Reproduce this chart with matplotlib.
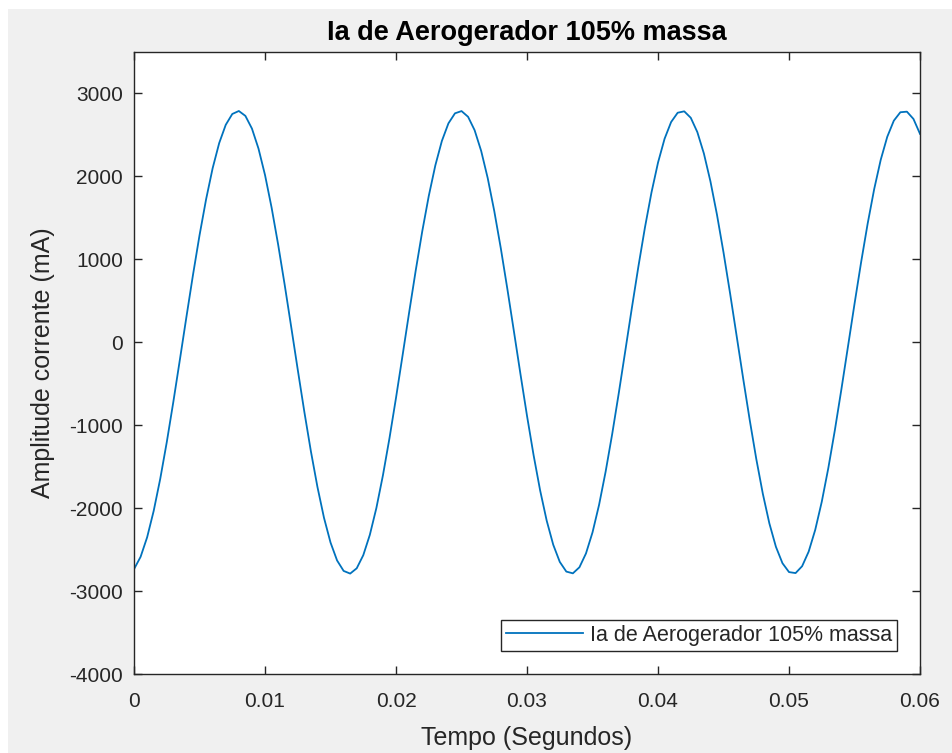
import matplotlib.pyplot as plt
from matplotlib.patches import Rectangle
import numpy as np

t_step = 0.0005
ia_ma = [
    -2735, -2587, -2351, -2033, -1646, -1203, -718, -209, 307, 813,
    1291, 1724, 2099, 2402, 2622, 2753, 2789, 2730, 2577, 2336,
    2016, 1625, 1179, 693, 183, -333, -838, -1314, -1744, -2116,
    -2415, -2631, -2757, -2789, -2725, -2567, -2322, -1998, -1604, -1156,
    -668, -157, 359, 863, 1337, 1765, 2133, 2428, 2640, 2761,
    2788, 2719, 2557, 2307, 1979, 1582, 1132, 642, 131, -385,
    -888, -1360, -1786, -2150, -2441, -2648, -2765, -2786, -2713, -2546,
    -2292, -1960, -1560, -1108, -617, -105, 411, 912, 1383, 1806,
    2167, 2454, 2656, 2768, 2785, 2707, 2535, 2277, 1941, 1539,
    1083, 591, 78, -437, -937, -1406, -1826, -2184, -2466, -2664,
    -2771, -2783, -2700, -2524, -2262, -1923, -1517, -1059, -565, -52,
    463, 962, 1428, 1846, 2200, 2478, 2672, 2774, 2781, 2693,
    2513,
]
t = np.arange(len(ia_ma)) * t_step

xticks = [0, 0.01, 0.02, 0.03, 0.04, 0.05, 0.06]
xtick_labels = ["0", "0.01", "0.02", "0.03", "0.04", "0.05", "0.06"]
yticks = [-4000, -3000, -2000, -1000, 0, 1000, 2000, 3000]
label = "Ia de Aerogerador 105% massa"

plt.rcParams["font.family"] = ["Liberation Sans", "DejaVu Sans"]
plt.rcParams["axes.unicode_minus"] = False
dark = "#262626"

fig = plt.figure(figsize=(9.52, 7.53), dpi=100, facecolor="white")
# grey MATLAB window background (small white strip at top/left)
fig.patches.append(Rectangle((8 / 952, 0), 1, 1 - 9 / 753,
                             transform=fig.transFigure, facecolor="#f0f0f0",
                             edgecolor="none", zorder=-10))

ax = fig.add_axes([0.1408, 0.1049, 0.8256, 0.8260])
ax.plot(t, ia_ma, color="#0072BD", linewidth=1.3, label=label)

ax.set_xlim(0, 0.06)
ax.set_ylim(-4000, 3500)
ax.set_xticks(xticks)
ax.set_xticklabels(xtick_labels)
ax.set_yticks(yticks)
ax.tick_params(direction="in", length=6, width=1, top=True, right=True,
               labelsize=15, colors=dark)
ax.tick_params(axis="x", pad=13)
ax.tick_params(axis="y", pad=8)
for s in ax.spines.values():
    s.set_color(dark)
    s.set_linewidth(1)

ax.set_title(label, fontsize=19.5, fontweight="bold", color="black", pad=9)
ax.set_xlabel("Tempo (Segundos)", fontsize=18, color=dark, labelpad=11)
ax.set_ylabel("Amplitude corrente (mA)", fontsize=18, color=dark, labelpad=10)

leg = ax.legend(loc="lower right", fontsize=15.5, handlelength=3.6,
                fancybox=False, framealpha=1, edgecolor=dark,
                borderaxespad=1.05, borderpad=0.25, handletextpad=0.3)
leg.get_frame().set_linewidth(1)
for txt in leg.get_texts():
    txt.set_color(dark)

fig.savefig("out.png", dpi=100, facecolor=fig.get_facecolor())
